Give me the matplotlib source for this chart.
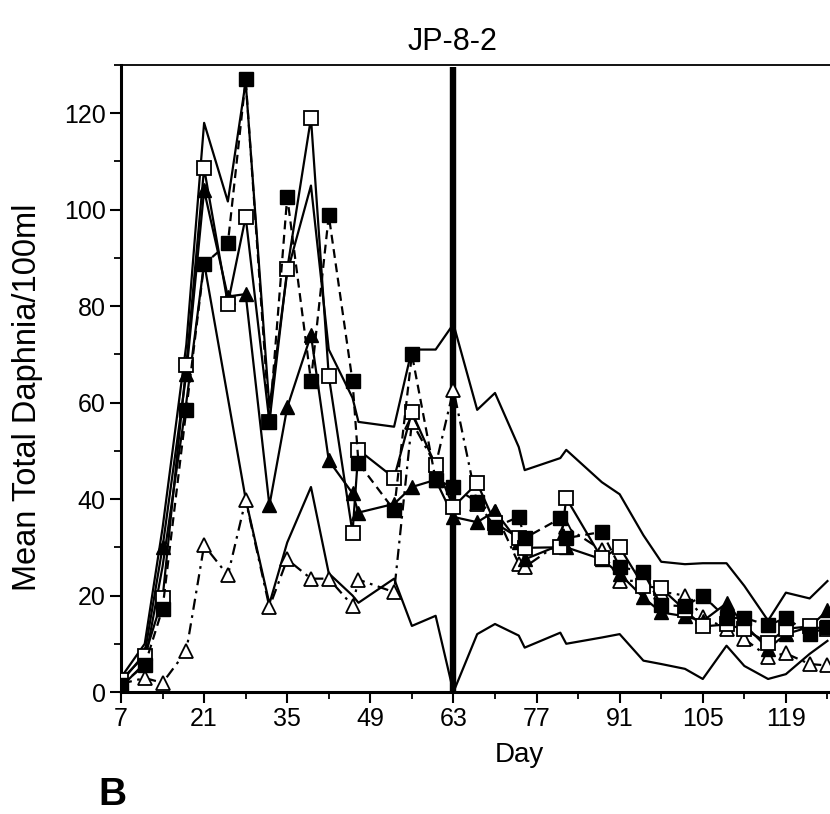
import matplotlib
matplotlib.use('Agg')
import matplotlib.pyplot as plt
from matplotlib.ticker import MultipleLocator, FixedLocator

plt.rcParams['font.family'] = ['Liberation Sans', 'DejaVu Sans']

# sampling days (shared by all series)
days = [7, 11, 14, 18, 21, 25, 28, 32, 35, 39, 42, 46, 47, 53, 56, 60, 63, 67, 70,
        74, 75, 81, 82, 88, 91, 95, 98, 102, 105, 109, 112, 116, 119, 123, 126]

filled_sq = [1.5, 5.5, 17.3, 58.5, 88.7, 93, 127, 56, 102.7, 64.5, 98.8, 64.4, 47.5,
             37.7, 70, 44, 42.5, 39.4, 34.2, 36.3, 31.9, 36, 31.9, 33.2, 26, 24.8,
             18, 17.8, 20, 15.3, 15.4, 13.8, 15.4, 12, 13.5]
open_sq = [2.5, 7.5, 19.4, 67.7, 108.6, 80.5, 98.5, 56, 87.7, 119, 65.5, 33, 50.2,
           44.4, 58, 47, 38.4, 43.3, 35, 32, 29.9, 30, 40.2, 27.7, 30, 22,
           21.5, 17, 13.6, 14, 13, 10.2, 13.1, 13.6, 13]
filled_tri = [2, 8, 30, 66, 104, 82, 82.5, 38.7, 59, 74, 48, 41.2, 37.2,
              39, 42.5, 44, 36.3, 35.2, 37.5, 31, 27.5, 30.5, 30, 27.5, 24.5, 19.6,
              16.5, 15.7, 14.7, 18.4, 14, 9, 12, 13.5, 16.9]
open_tri = [1.7, 2.9, 1.9, 8.5, 30.4, 24.2, 39.8, 17.6, 27.5, 23.5, 23.5, 17.9, 23.3,
            20.7, 56, 47, 62.7, 39, 37.3, 26.6, 25.9, 31, 34.2, 29.4, 23.1, 23,
            20.8, 20, 15.6, 13.1, 11, 7.3, 8, 5.8, 5.5]
upper = [3, 10, 34, 72, 118, 101.7, 126.5, 59, 87, 105, 71, 61, 56,
         55, 71, 71, 76.3, 58.5, 62, 50.8, 46, 48.5, 50.2, 43.5, 41, 32.5,
         27, 26.5, 26.7, 26.7, 22, 14.8, 20.6, 19.4, 23]
lower = [1, 6, 26, 60, 89, 61, 40, 18.3, 31, 42.5, 24.6, 20, 18.5,
         23.5, 13.7, 15.8, 0, 12, 14.1, 11.7, 9.2, 12.3, 10, 11.3, 12, 6.5,
         5.8, 4.8, 2.7, 9.6, 5.4, 2.7, 3.7, 7.9, 10.6]

dosing_day = 63

W, H = 830, 814
fig = plt.figure(figsize=(W / 100, H / 100), dpi=100)
# axes run past the right edge of the figure (the original is cropped there)
ax = fig.add_axes([121 / W, (H - 692) / H, (869 - 121) / W, 627 / H])
ax.set_xlim(7, 133)
ax.set_ylim(0, 130)

lw = 1.6
ax.plot(days, upper, color='black', lw=lw, zorder=2)
ax.plot(days, lower, color='black', lw=lw, zorder=2)
ax.vlines(dosing_day, 0, 129.5, color='black', lw=4.6, zorder=3)

ax.plot(days, open_tri, color='black', lw=lw, ls=(0, (5, 2.5, 1.2, 2.5)),
        marker='^', ms=10.5, mfc='white', mec='black', mew=1.3, zorder=4)
ax.plot(days, filled_tri, color='black', lw=lw, ls='-',
        marker='^', ms=10.5, mfc='black', mec='black', zorder=5)
ax.plot(days, open_sq, color='black', lw=lw, ls='-',
        marker='s', ms=9.5, mfc='white', mec='black', mew=1.3, zorder=6)
ax.plot(days, filled_sq, color='black', lw=lw, ls=(0, (4, 2.5)),
        marker='s', ms=10.5, mfc='black', mec='black', zorder=7)

ax.xaxis.set_major_locator(FixedLocator(list(range(7, 127, 14))))
ax.xaxis.set_minor_locator(FixedLocator(list(range(14, 134, 14))))
ax.yaxis.set_major_locator(MultipleLocator(20))
ax.yaxis.set_minor_locator(MultipleLocator(10))
ax.tick_params(which='major', direction='out', length=8, width=1.5, labelsize=18, pad=3)
ax.tick_params(which='minor', direction='out', length=5, width=1.3)

ax.spines['left'].set_linewidth(2.2)
ax.spines['bottom'].set_linewidth(2.2)
ax.spines['top'].set_linewidth(1.3)
ax.spines['right'].set_visible(False)

ax.set_ylabel('Mean Total Daphnia/100ml', fontsize=23.5)
ax.yaxis.set_label_coords(-78 / 748, 0.47)
fig.text(519 / W, 1 - 755 / H, 'Day', fontsize=20, ha='center', va='center')
fig.text(453 / W, 1 - 42 / H, 'JP-8-2', fontsize=22, ha='center', va='center')
fig.text(112 / W, 1 - 795 / H, 'B', fontsize=28, fontweight='bold', ha='center', va='center')

fig.savefig('out.png', dpi=100)
